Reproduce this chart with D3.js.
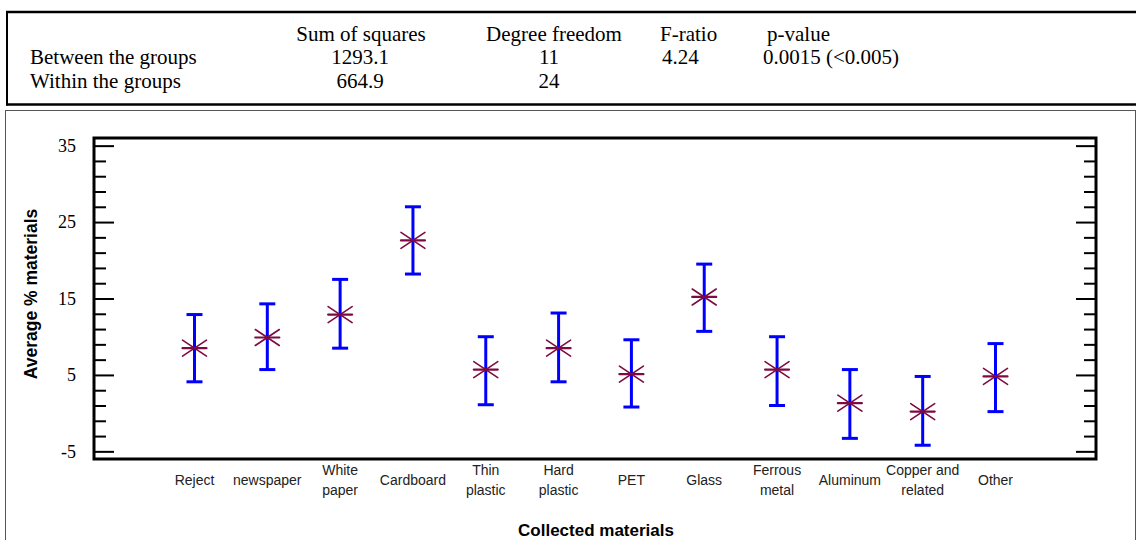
<!DOCTYPE html>
<html>
<head>
<meta charset="utf-8">
<script src="https://cdn.jsdelivr.net/npm/d3@7"></script>
<style>
  html, body { margin: 0; padding: 0; background: #fff; }
  svg { display: block; }
</style>
</head>
<body>
<div id="chart"></div>
<script>
// ---- data ----
const categories = ["Reject", "newspaper", "White paper", "Cardboard", "Thin plastic", "Hard plastic",
                    "PET", "Glass", "Ferrous metal", "Aluminum", "Copper and related", "Other"];
const means = [8.5, 9.9, 12.9, 22.6, 5.7, 8.5, 5.1, 15.2, 5.7, 1.3, 0.2, 4.8];
const upper = [12.9, 14.3, 17.5, 27.0, 10.0, 13.1, 9.6, 19.5, 10.0, 5.7, 4.8, 9.1];
const lower = [4.1, 5.7, 8.5, 18.2, 1.1, 4.1, 0.8, 10.7, 1.0, -3.3, -4.2, 0.2];
const yMajorTicks = [-5, 5, 15, 25, 35];
const yMinorTicks = [-3, -1, 1, 3, 7, 9, 11, 13, 17, 19, 21, 23, 27, 29, 31, 33];
const tableHeader = ["", "Sum of squares", "Degree freedom", "F-ratio", "p-value"];
const tableRows = [
  ["Between the groups", "1293.1", "11", "4.24", "0.0015 (<0.005)"],
  ["Within the groups", "664.9", "24", "", ""]
];
const yTitle = "Average % materials";
const xTitle = "Collected materials";

// ---- drawing ----
const W = 1136, H = 540;
const svg = d3.select("#chart").append("svg").attr("width", W).attr("height", H);
svg.append("rect").attr("width", W).attr("height", H).attr("fill", "#fff");

// ANOVA table
const tbl = svg.append("g");
tbl.append("line").attr("x1", 6).attr("x2", W).attr("y1", 12).attr("y2", 12).attr("stroke", "#000").attr("stroke-width", 2.5);
tbl.append("line").attr("x1", 6).attr("x2", W).attr("y1", 104.5).attr("y2", 104.5).attr("stroke", "#000").attr("stroke-width", 2.5);
tbl.append("line").attr("x1", 7).attr("x2", 7).attr("y1", 11).attr("y2", 105.5).attr("stroke", "#000").attr("stroke-width", 2);
const colX = [30, 361, 554, 660, 767];
const colAnchor = ["start", "middle", "middle", "start", "start"];
const rowY = [41, 64, 88];
const allRows = [tableHeader].concat(tableRows);
allRows.forEach((row, ri) => {
  row.forEach((cell, ci) => {
    if (!cell) return;
    let x = colX[ci];
    if (ri > 0 && ci === 1) x = 360;
    if (ri > 0 && ci === 2) x = 549;
    if (ri > 0 && ci === 3) x = 662;
    if (ri > 0 && ci === 4) x = 763;
    tbl.append("text")
      .attr("x", x).attr("y", rowY[ri])
      .attr("text-anchor", colAnchor[ci])
      .attr("font-family", "'Liberation Serif', 'Times New Roman', serif")
      .attr("font-size", 21)
      .attr("fill", "#000")
      .text(cell);
  });
});

// chart panel frame
svg.append("rect").attr("x", 5.5).attr("y", 110.5).attr("width", W - 6).attr("height", 460)
  .attr("fill", "none").attr("stroke", "#555").attr("stroke-width", 1);

// plot
const plot = { left: 94, right: 1096, top: 138, bottom: 459 };
const x = d3.scalePoint().domain(categories).range([plot.left, plot.right]).padding(1.38);
const y = d3.scaleLinear().domain([-6, 36]).range([plot.bottom, plot.top]);

const serif = "'Liberation Serif', 'Times New Roman', serif";
const sans = "'Liberation Sans', Arial, sans-serif";

// left major axis
const gL = svg.append("g").attr("transform", `translate(${plot.left},0)`)
  .call(d3.axisLeft(y).tickValues(yMajorTicks).tickSize(-20).tickPadding(18).tickFormat(d => String(d)));
gL.select(".domain").remove();
gL.selectAll(".tick line").attr("stroke", "#000").attr("stroke-width", 2);
gL.selectAll(".tick text").attr("font-family", serif).attr("font-size", 18).attr("fill", "#000");
// left minor
const gLm = svg.append("g").attr("transform", `translate(${plot.left},0)`)
  .call(d3.axisLeft(y).tickValues(yMinorTicks).tickSize(-12).tickFormat(""));
gLm.select(".domain").remove();
gLm.selectAll(".tick line").attr("stroke", "#000").attr("stroke-width", 2);

// right major / minor (mirrored, no labels)
const gR = svg.append("g").attr("transform", `translate(${plot.right},0)`)
  .call(d3.axisRight(y).tickValues(yMajorTicks).tickSize(-20).tickFormat(""));
gR.select(".domain").remove();
gR.selectAll(".tick line").attr("stroke", "#000").attr("stroke-width", 2);
const gRm = svg.append("g").attr("transform", `translate(${plot.right},0)`)
  .call(d3.axisRight(y).tickValues(yMinorTicks).tickSize(-12).tickFormat(""));
gRm.select(".domain").remove();
gRm.selectAll(".tick line").attr("stroke", "#000").attr("stroke-width", 2);

// plot frame
svg.append("rect")
  .attr("x", plot.left).attr("y", plot.top)
  .attr("width", plot.right - plot.left).attr("height", plot.bottom - plot.top)
  .attr("fill", "none").attr("stroke", "#000").attr("stroke-width", 3);

// x category labels
const xl = svg.append("g");
categories.forEach((c) => {
  let lines = [c];
  if (c === "White paper") lines = ["White", "paper"];
  if (c === "Thin plastic") lines = ["Thin", "plastic"];
  if (c === "Hard plastic") lines = ["Hard", "plastic"];
  if (c === "Ferrous metal") lines = ["Ferrous", "metal"];
  if (c === "Copper and related") lines = ["Copper and", "related"];
  const t = xl.append("text")
    .attr("x", x(c))
    .attr("text-anchor", "middle")
    .attr("font-family", sans)
    .attr("font-size", 14)
    .attr("fill", "#222");
  if (lines.length === 1) {
    t.attr("y", 485).text(lines[0]);
  } else {
    lines.forEach((l, i) => {
      t.append("tspan").attr("x", x(c)).attr("y", 475 + i * 19.5).text(l);
    });
  }
});

// axis titles
svg.append("text")
  .attr("transform", `translate(37,294) rotate(-90)`)
  .attr("text-anchor", "middle")
  .attr("font-family", sans).attr("font-weight", "bold").attr("font-size", 17.5)
  .attr("fill", "#000").text(yTitle);
svg.append("text")
  .attr("x", 596).attr("y", 536)
  .attr("text-anchor", "middle")
  .attr("font-family", sans).attr("font-weight", "bold").attr("font-size", 17)
  .attr("fill", "#000").text(xTitle);

// error bars
const data = categories.map((c, i) => ({ c, m: means[i], lo: lower[i], hi: upper[i] }));
const eb = svg.append("g").attr("stroke", "#0000ff").attr("stroke-width", 3);
data.forEach(d => {
  const cx = x(d.c);
  eb.append("line").attr("x1", cx).attr("x2", cx).attr("y1", y(d.hi)).attr("y2", y(d.lo));
  eb.append("line").attr("x1", cx - 8).attr("x2", cx + 8).attr("y1", y(d.hi)).attr("y2", y(d.hi));
  eb.append("line").attr("x1", cx - 8).attr("x2", cx + 8).attr("y1", y(d.lo)).attr("y2", y(d.lo));
});

// star markers
const st = svg.append("g").attr("stroke", "#7d0a40").attr("stroke-linecap", "round");
data.forEach(d => {
  const cx = x(d.c), cy = y(d.m);
  st.append("line").attr("x1", cx - 12).attr("x2", cx + 12).attr("y1", cy).attr("y2", cy).attr("stroke-width", 2.2);
  st.append("line").attr("x1", cx - 12).attr("x2", cx + 12).attr("y1", cy + 8).attr("y2", cy - 8).attr("stroke-width", 1.6);
  st.append("line").attr("x1", cx - 12).attr("x2", cx + 12).attr("y1", cy - 8).attr("y2", cy + 8).attr("stroke-width", 1.6);
});
</script>
</body>
</html>
